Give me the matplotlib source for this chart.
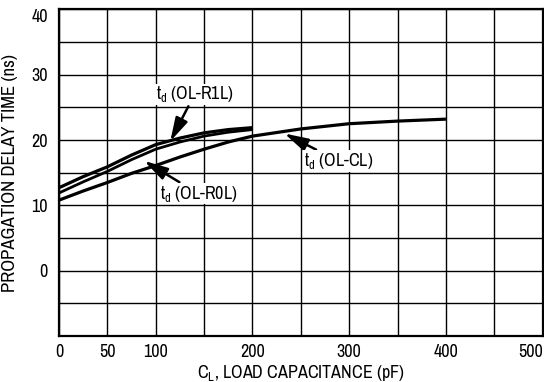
import matplotlib
matplotlib.use("Agg")
import matplotlib.pyplot as plt
from matplotlib.ticker import MultipleLocator

plt.rcParams["font.family"] = ["Archivo Narrow", "Liberation Sans", "DejaVu Sans"]
plt.rcParams["mathtext.fontset"] = "custom"
plt.rcParams["mathtext.rm"] = "Archivo Narrow"

# load capacitance (pF)
cl_short = [0, 25, 50, 75, 100, 125, 150, 175, 200]
cl_long = [0, 25, 50, 75, 100, 125, 150, 175, 200, 250, 300, 350, 400]

# propagation delay (ns)
td_r1l = [12.7, 14.4, 15.9, 17.7, 19.3, 20.3, 21.1, 21.6, 21.9]
td_r0l = [11.9, 13.6, 15.2, 17.0, 18.6, 19.7, 20.6, 21.2, 21.6]
td_cl = [10.8, 12.2, 13.5, 14.9, 16.1, 17.4, 18.6, 19.7, 20.6, 21.7, 22.5, 22.9, 23.2]

x_ticks = [0, 50, 100, 200, 300, 400, 500]
y_ticks = [0, 10, 20, 30, 40]

fig = plt.figure(figsize=(5.44, 3.82), dpi=100)
ax = fig.add_axes([0.1085, 0.1204, 0.889, 0.855])

ax.plot(cl_short, td_r1l, color="black", lw=2.3, solid_capstyle="butt")
ax.plot(cl_short, td_r0l, color="black", lw=2.0, solid_capstyle="butt")
ax.plot(cl_long, td_cl, color="black", lw=2.3, solid_capstyle="butt")

ax.set_xlim(0, 500)
ax.set_ylim(-10, 40)
ax.set_xticks(x_ticks)
ax.set_yticks(y_ticks)
ax.xaxis.set_minor_locator(MultipleLocator(50))
ax.yaxis.set_minor_locator(MultipleLocator(5))
ax.grid(which="both", color="black", lw=1.0)
ax.set_axisbelow(True)
ax.tick_params(which="both", length=0, labelsize=13)
ax.tick_params(axis="x", pad=6)
ax.tick_params(axis="y", pad=8)
for lab in ax.get_yticklabels():
    if lab.get_text() == "40":
        lab.set_verticalalignment("top")
for lab in ax.get_xticklabels():
    if lab.get_text() == "500":
        lab.set_horizontalalignment("right")
for s in ax.spines.values():
    s.set_linewidth(1.6)

ax.set_xlabel(r"C$_\mathregular{L}$, LOAD CAPACITANCE (pF)", fontsize=13, labelpad=2)
ax.set_ylabel("PROPAGATION DELAY TIME (ns)", fontsize=13.5, labelpad=10)

box = dict(facecolor="white", edgecolor="none", pad=0.5)
arrow = dict(arrowstyle="-|>,head_length=1.1,head_width=0.3", color="black", lw=1.8,
             shrinkA=1, shrinkB=0)
ax.annotate(r"t$_\mathregular{d}$ (OL-R1L)", xy=(115, 19.8), xytext=(100, 27.0),
            fontsize=13, ha="left", va="center", bbox=box, arrowprops=arrow)
ax.annotate(r"t$_\mathregular{d}$ (OL-R0L)", xy=(88, 16.8), xytext=(104, 11.8),
            fontsize=13, ha="left", va="center", bbox=box, arrowprops=arrow)
ax.annotate(r"t$_\mathregular{d}$ (OL-CL)", xy=(233, 21.0), xytext=(253, 16.8),
            fontsize=13, ha="left", va="center", bbox=box, arrowprops=arrow)

fig.savefig("out.png", dpi=100)
